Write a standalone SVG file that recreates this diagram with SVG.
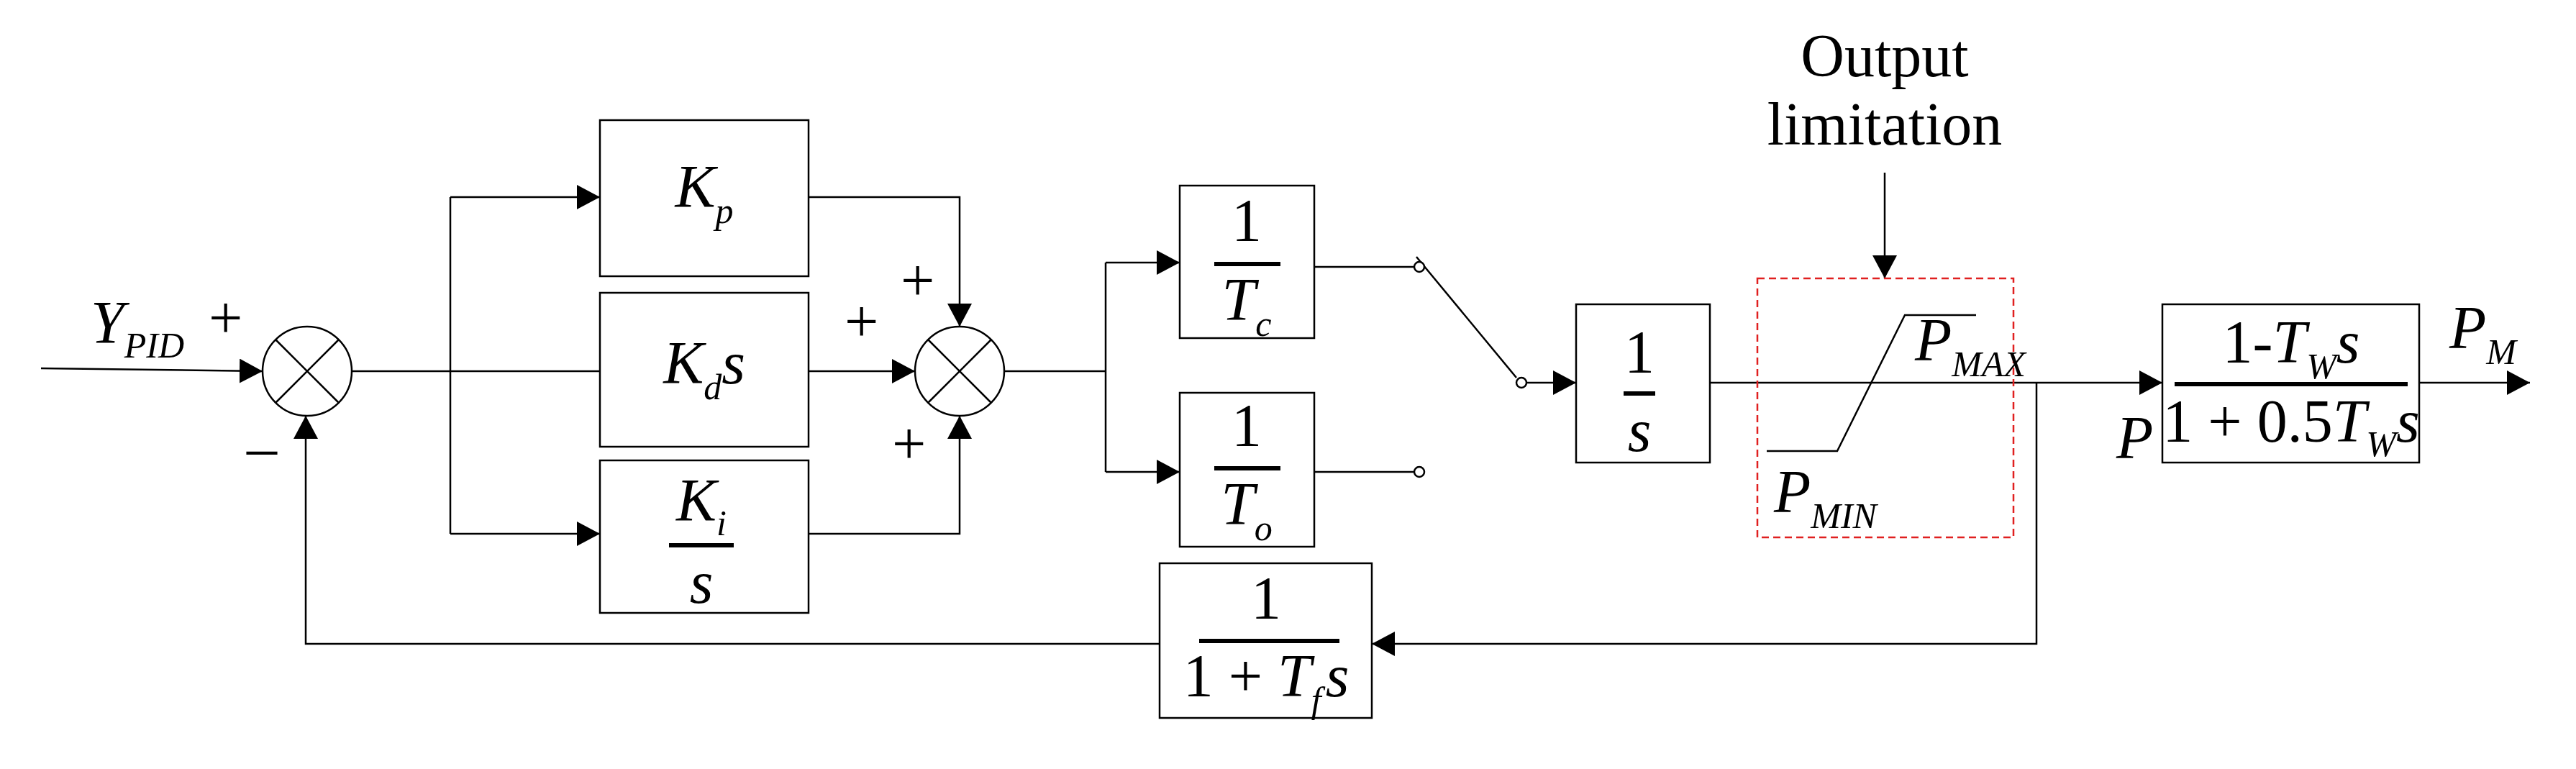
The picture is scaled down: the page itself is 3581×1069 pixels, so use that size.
<svg xmlns="http://www.w3.org/2000/svg" width="3581" height="1069" viewBox="0 0 3581 1069">
<style>
.b{fill:#fff;stroke:#000;stroke-width:2.5}
.l{fill:none;stroke:#000;stroke-width:2.5}
.f{stroke:#000;stroke-width:6}
text{font-family:"Liberation Serif",serif;font-size:84px;fill:#000}
.i{font-style:italic}
.s{font-size:50px;font-style:italic}
.c{text-anchor:middle}
</style>
<defs>
<marker id="a" markerUnits="userSpaceOnUse" markerWidth="34" markerHeight="34" refX="32" refY="17" orient="auto"><path d="M0,0L32,17L0,34z" fill="#000"/></marker>
</defs>
<g id="connectors">
<path class="l" d="M57,512L365,516" marker-end="url(#a)"/>
<path class="l" d="M489,516H834M626,274V742"/>
<path class="l" d="M626,274H834" marker-end="url(#a)"/>
<path class="l" d="M626,742H834" marker-end="url(#a)"/>
<path class="l" d="M1124,274H1334V454" marker-end="url(#a)"/>
<path class="l" d="M1124,516H1272" marker-end="url(#a)"/>
<path class="l" d="M1124,742H1334V578" marker-end="url(#a)"/>
<path class="l" d="M1396,516H1537M1537,365V656"/>
<path class="l" d="M1537,365H1640" marker-end="url(#a)"/>
<path class="l" d="M1537,656H1640" marker-end="url(#a)"/>
<path class="l" d="M1827,371H1966M1827,656H1966M1969,357L2108,525"/>
<path class="l" d="M2122,532H2191" marker-end="url(#a)"/>
<path class="l" d="M2377,532H3006" marker-end="url(#a)"/>
<path class="l" d="M3363,532H3517" marker-end="url(#a)"/>
<path class="l" d="M2831,532V895H1907" marker-end="url(#a)"/>
<path class="l" d="M1612,895H425V578" marker-end="url(#a)"/>
<path class="l" d="M2620,240V387" marker-end="url(#a)"/>
<circle cx="1973" cy="371" r="7" class="b" stroke-width="2"/>
<circle cx="1973" cy="656" r="7" class="b" stroke-width="2"/>
<circle cx="2115" cy="532" r="7" class="b" stroke-width="2"/>
</g>
<g id="sum1"><circle class="b" cx="427" cy="516" r="62"/><path class="l" d="M383,472L471,560M471,472L383,560"/></g>
<g id="sum2"><circle class="b" cx="1334" cy="516" r="62"/><path class="l" d="M1290,472L1378,560M1378,472L1290,560"/></g>
<g id="kp"><rect class="b" x="834" y="167" width="290" height="217"/><text class="i c" x="979" y="288">K<tspan class="s" dy="22">p</tspan></text></g>
<g id="kd"><rect class="b" x="834" y="407" width="290" height="214"/><text class="i c" x="979" y="533">K<tspan class="s" dy="22">d</tspan><tspan dy="-22">s</tspan></text></g>
<g id="ki"><rect class="b" x="834" y="640" width="290" height="212"/><text class="i c" x="975" y="724">K<tspan class="s" dy="20">i</tspan></text><path class="f" d="M930,758H1020"/><text class="i c" x="975" y="838">s</text></g>
<g id="tc"><rect class="b" x="1640" y="258" width="187" height="212"/><text class="c" x="1733" y="335">1</text><path class="f" d="M1688,367H1780"/><text class="i c" x="1733" y="445">T<tspan class="s" dy="22">c</tspan></text></g>
<g id="to"><rect class="b" x="1640" y="546" width="187" height="214"/><text class="c" x="1733" y="620">1</text><path class="f" d="M1688,651H1780"/><text class="i c" x="1733" y="729">T<tspan class="s" dy="22">o</tspan></text></g>
<g id="integ"><rect class="b" x="2191" y="423" width="186" height="220"/><text class="c" x="2279" y="518">1</text><path class="f" d="M2257,547H2301"/><text class="i c" x="2279" y="627">s</text></g>
<g id="limiter"><rect x="2443" y="387" width="356" height="360" fill="none" stroke="#e02020" stroke-width="2.5" stroke-dasharray="10,6"/><path class="l" d="M2456,627H2554L2648,438H2747"/><text class="i" x="2662" y="501">P<tspan class="s" dy="22">MAX</tspan></text><text class="i" x="2466" y="712">P<tspan class="s" dy="22">MIN</tspan></text></g>
<g id="label"><text class="c" x="2620" y="106" font-size="78">Output</text><text class="c" x="2620" y="201" font-size="78">limitation</text></g>
<g id="turbine"><rect class="b" x="3006" y="423" width="357" height="220"/><text class="c" x="3185" y="504">1-<tspan class="i">T</tspan><tspan class="s" dy="22">W</tspan><tspan class="i" dy="-22">s</tspan></text><path class="f" d="M3023,534H3347"/><text class="c" x="3185" y="614" font-size="72">1 + 0.5<tspan class="i">T</tspan><tspan class="s" dy="20" font-size="44">W</tspan><tspan class="i" dy="-20">s</tspan></text></g>
<g id="feedback"><rect class="b" x="1612" y="783" width="295" height="215"/><text class="c" x="1760" y="860">1</text><path class="f" d="M1667,891H1862"/><text class="c" x="1760" y="968">1 + <tspan class="i">T</tspan><tspan class="s" dy="22">f</tspan><tspan class="i" dy="-22" dx="6">s</tspan></text></g>
<g id="labels">
<text class="i" x="126" y="477">Y<tspan class="s" dy="20">PID</tspan></text>
<text x="290" y="470">+</text><text x="343" y="650">–</text>
<text x="1252" y="418">+</text><text x="1174" y="475">+</text><text x="1240" y="645">+</text>
<text class="i" x="2942" y="637">P</text>
<text class="i" x="3405" y="484">P<tspan class="s" dy="22">M</tspan></text>
</g>
</svg>
